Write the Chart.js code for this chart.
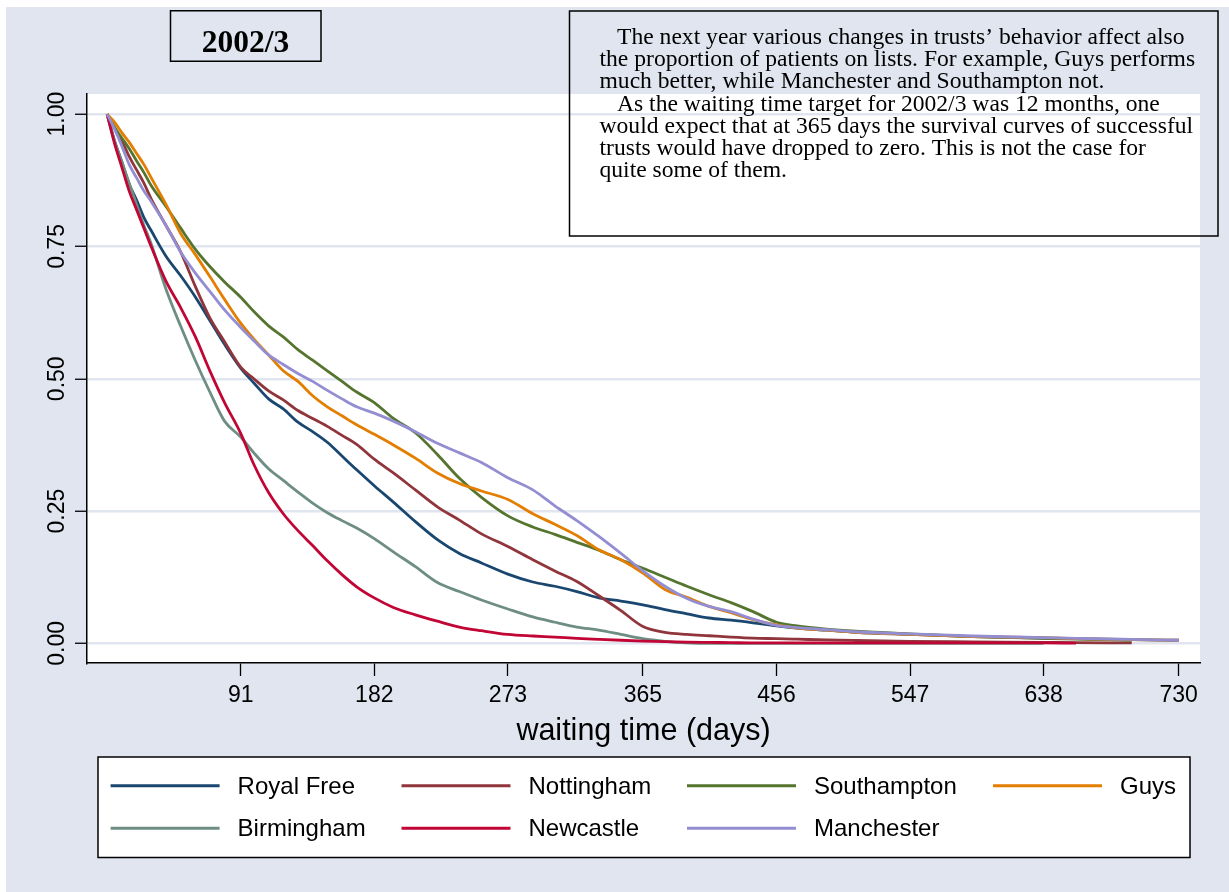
<!DOCTYPE html>
<html>
<head>
<meta charset="utf-8">
<title>2002/3 waiting time survival curves</title>
<script src="https://cdn.jsdelivr.net/npm/chart.js"></script>
<style>
  html, body { margin: 0; padding: 0; background: #fff; }
  #chart { display: block; }
</style>
</head>
<body>
<canvas id="chart" width="1229" height="892"></canvas>
<script>
// waiting time in days at which each curve is read
const days = [0, 5, 10, 15, 20, 25, 30, 40, 50, 60, 70, 80, 91,
  100, 110, 120, 130, 140, 150, 160, 170, 182,
  195, 210, 225, 240, 255, 273,
  290, 305, 320, 335, 350, 365,
  380, 395, 410, 425, 440, 456,
  470, 490, 510, 547, 590, 638, 660, 698, 730];

// proportion still waiting (survival), one list per trust
const royalFree = [1, 0.95, 0.91, 0.868, 0.838, 0.805, 0.78, 0.732, 0.695, 0.655, 0.61, 0.565, 0.52,
  0.492, 0.462, 0.443, 0.418, 0.40, 0.38, 0.354, 0.328, 0.298,
  0.267, 0.23, 0.196, 0.17, 0.152, 0.131,
  0.116, 0.108, 0.098, 0.086, 0.08, 0.073,
  0.064, 0.056, 0.048, 0.044, 0.039, 0.033,
  0.029, 0.025, 0.021, 0.017, 0.013, 0.010, 0.009, 0.007, 0.006];
const nottingham = [1, 0.975, 0.95, 0.92, 0.895, 0.87, 0.84, 0.79, 0.74, 0.675, 0.615, 0.57, 0.522,
  0.50, 0.477, 0.46, 0.44, 0.425, 0.41, 0.393, 0.376, 0.348,
  0.322, 0.29, 0.258, 0.233, 0.207, 0.183,
  0.158, 0.137, 0.117, 0.09, 0.062, 0.032,
  0.021, 0.017, 0.0145, 0.012, 0.010, 0.009,
  0.008, 0.0065, 0.0055, 0.004, 0.003, 0.002, 0.0015, 0.001, null];
const southampton = [1, 0.975, 0.955, 0.935, 0.912, 0.89, 0.865, 0.826, 0.785, 0.745, 0.712, 0.683, 0.654,
  0.627, 0.60, 0.579, 0.555, 0.535, 0.515, 0.495, 0.475, 0.455,
  0.425, 0.398, 0.357, 0.312, 0.276, 0.241,
  0.22, 0.206, 0.191, 0.176, 0.158, 0.142,
  0.125, 0.108, 0.092, 0.077, 0.06, 0.040,
  0.033, 0.027, 0.023, 0.018, 0.013, 0.0095, 0.008, 0.006, null];
const guys = [1, 0.985, 0.965, 0.947, 0.926, 0.905, 0.88, 0.83, 0.775, 0.735, 0.693, 0.65, 0.605,
  0.575, 0.545, 0.515, 0.495, 0.468, 0.447, 0.43, 0.413, 0.395,
  0.375, 0.35, 0.322, 0.302, 0.288, 0.272,
  0.245, 0.225, 0.204, 0.177, 0.158, 0.133,
  0.102, 0.087, 0.07, 0.058, 0.045, 0.035,
  0.029, 0.025, 0.021, 0.017, 0.013, 0.011, 0.009, 0.007, 0.006];
const birmingham = [1, 0.95, 0.91, 0.87, 0.83, 0.79, 0.755, 0.67, 0.60, 0.535, 0.475, 0.42, 0.39,
  0.36, 0.33, 0.308, 0.286, 0.265, 0.247, 0.232, 0.218, 0.198,
  0.173, 0.145, 0.115, 0.098, 0.082, 0.065,
  0.05, 0.04, 0.031, 0.025, 0.017, 0.009,
  0.004, 0.001, 0, 0, 0, 0,
  0, 0, 0, 0, 0, 0, null, null, null];
const newcastle = [1, 0.945, 0.90, 0.855, 0.82, 0.785, 0.75, 0.685, 0.635, 0.58, 0.515, 0.455, 0.397,
  0.338, 0.285, 0.245, 0.213, 0.185, 0.156, 0.13, 0.107, 0.086,
  0.068, 0.054, 0.042, 0.031, 0.024, 0.017,
  0.014, 0.012, 0.0095, 0.0077, 0.006, 0.0045,
  0.0033, 0.0025, 0.002, 0.0015, 0.001, 0.001,
  0.001, 0.001, 0.001, 0.001, 0.001, 0.001, 0.0005, null, null];
const manchester = [1, 0.972, 0.94, 0.905, 0.88, 0.855, 0.835, 0.79, 0.74, 0.70, 0.665, 0.63, 0.597,
  0.572, 0.545, 0.527, 0.51, 0.495, 0.478, 0.462, 0.447, 0.435,
  0.42, 0.40, 0.378, 0.36, 0.342, 0.313,
  0.29, 0.26, 0.232, 0.202, 0.17, 0.137,
  0.108, 0.085, 0.07, 0.06, 0.046, 0.034,
  0.030, 0.026, 0.022, 0.018, 0.014, 0.011, 0.0095, 0.0075, 0.006];

const trusts = ["Royal Free", "Nottingham", "Southampton", "Guys", "Birmingham", "Newcastle", "Manchester"];
const series = [royalFree, nottingham, southampton, guys, birmingham, newcastle, manchester];
const colors = ["#1a476f", "#90353b", "#55752f", "#e37e00", "#6e8e84", "#c10534", "#938dd2"];

const xTicks = [91, 182, 273, 365, 456, 547, 638, 730];
const yTicks = [0, 0.25, 0.5, 0.75, 1];

const titleText = "2002/3";
const noteLines = [
  "The next year various changes in trusts\u2019 behavior affect also",
  "the proportion of patients on lists. For example, Guys performs",
  "much better, while Manchester and Southampton not.",
  "As the waiting time target for 2002/3 was 12 months, one",
  "would expect that at 365 days the survival curves of successful",
  "trusts would have dropped to zero. This is not the case for",
  "quite some of them."
];
const noteIndent = [true, false, false, true, false, false, false];
const xTitle = "waiting time (days)";

const BG = "#e0e5ef";
const SANS = "'Liberation Sans', Arial, sans-serif";
const SERIF = "'Liberation Serif', 'Times New Roman', serif";

// page background, plot region
const backdrop = {
  id: "backdrop",
  beforeDraw(chart) {
    const { ctx, chartArea: a, width, height } = chart;
    ctx.save();
    ctx.fillStyle = "#fff";
    ctx.fillRect(0, 0, width, height);
    ctx.fillStyle = BG;
    ctx.fillRect(6, 7, width - 6, height - 7);
    ctx.fillStyle = "#fff";
    ctx.fillRect(a.left, a.top, a.right - a.left, a.bottom - a.top);
    ctx.restore();
  }
};

// title box, note box, rotated y labels, x title and the legend
const decorations = {
  id: "decorations",
  afterDraw(chart) {
    const { ctx, chartArea: a } = chart;
    const yScale = chart.scales.y;
    ctx.save();

    // y tick labels, rotated like Stata draws them
    ctx.fillStyle = "#000";
    ctx.font = "23px " + SANS;
    ctx.textAlign = "center";
    ctx.textBaseline = "alphabetic";
    yScale.ticks.forEach((t) => {
      const py = yScale.getPixelForValue(t.value);
      ctx.save();
      ctx.translate(63.5, py);
      ctx.rotate(-Math.PI / 2);
      ctx.fillText(t.value.toFixed(2), 0, 0);
      ctx.restore();
    });

    // x axis title
    ctx.font = "30.5px " + SANS;
    ctx.fillText(xTitle, (a.left + a.right) / 2, 740);

    // title box
    ctx.strokeStyle = "#000";
    ctx.lineWidth = 1.5;
    ctx.strokeRect(170.5, 10.75, 150.5, 50.5);
    ctx.font = "bold 31.5px " + SERIF;
    ctx.fillText(titleText, 245.5, 51.7);

    // note box (no fill)
    ctx.strokeRect(569.5, 11, 648.5, 225);
    ctx.font = "23.6px " + SERIF;
    ctx.textAlign = "left";
    noteLines.forEach((line, i) => {
      ctx.fillText(line, noteIndent[i] ? 617 : 599.5, 44 + i * 22.2);
    });

    // legend
    ctx.fillStyle = "#fff";
    ctx.fillRect(98, 757, 1092, 100.5);
    ctx.strokeRect(98, 757, 1092, 100.5);
    const colX = [110.6, 401.5, 687, 993];
    const rowY = [785.7, 828.3];
    ctx.font = "24px " + SANS;
    ctx.lineWidth = 3;
    chart.data.datasets.forEach((ds, i) => {
      const x0 = colX[i % 4];
      const y0 = rowY[Math.floor(i / 4)];
      ctx.strokeStyle = ds.borderColor;
      ctx.beginPath();
      ctx.moveTo(x0, y0);
      ctx.lineTo(x0 + 109, y0);
      ctx.stroke();
      ctx.fillStyle = "#000";
      ctx.fillText(ds.label, x0 + 127, y0 + 8);
    });

    ctx.restore();
  }
};

new Chart(document.getElementById("chart"), {
  type: "line",
  data: {
    datasets: trusts.map((name, i) => ({
      label: name,
      data: days.map((d, j) => ({ x: d, y: series[i][j] })),
      borderColor: colors[i],
      backgroundColor: colors[i],
      borderWidth: 2.8,
      pointRadius: 0,
      cubicInterpolationMode: "monotone",
      fill: false,
      borderJoinStyle: "round",
      order: trusts.length - i,
    })),
  },
  options: {
    responsive: false,
    devicePixelRatio: 1,
    animation: false,
    layout: { padding: { left: 0, top: 94, right: 29, bottom: 0 } },
    plugins: {
      legend: { display: false },
      tooltip: { enabled: false },
      title: { display: false },
    },
    scales: {
      x: {
        type: "linear",
        min: -13.7,
        max: 744.5,
        afterBuildTicks: (s) => { s.ticks = xTicks.map((v) => ({ value: v })); },
        afterFit: (s) => { s.height = 229; },
        ticks: {
          color: "#000",
          font: { family: SANS, size: 23 },
          padding: 6,
          maxRotation: 0,
          autoSkip: false,
        },
        grid: {
          drawOnChartArea: false,
          drawTicks: true,
          tickLength: 13,
          tickColor: "#000",
          tickWidth: 1.3,
        },
        border: { display: true, color: "#000", width: 1.5 },
      },
      y: {
        type: "linear",
        min: -0.037,
        max: 1.038,
        afterBuildTicks: (s) => { s.ticks = yTicks.map((v) => ({ value: v })); },
        afterFit: (s) => { s.width = 87; },
        ticks: { display: false },
        grid: {
          color: BG,
          lineWidth: 2.5,
          drawTicks: true,
          tickLength: 12,
          tickColor: "#000",
          tickWidth: 1.3,
        },
        border: { display: true, color: "#000", width: 1.5 },
      },
    },
  },
  plugins: [backdrop, decorations],
});
</script>
</body>
</html>
